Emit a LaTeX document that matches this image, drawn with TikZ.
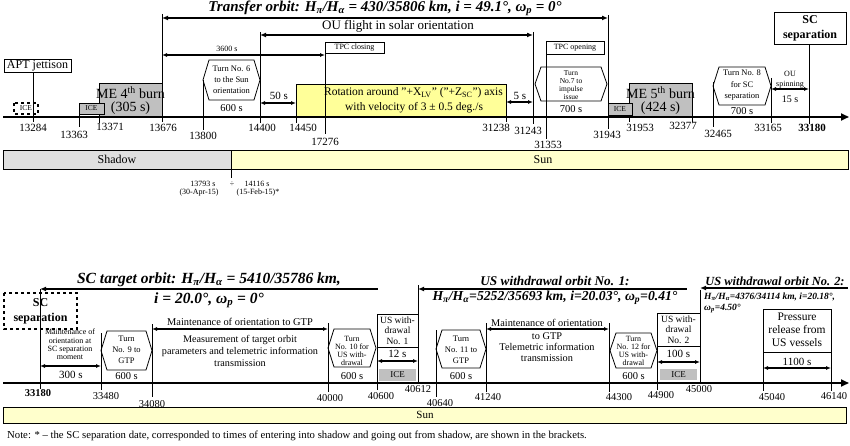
\documentclass[tikz,border=0pt]{standalone}
\usepackage{fontspec}
\setmainfont{Liberation Serif}
\usetikzlibrary{arrows.meta}
\newcommand\fsz[2]{\fontsize{#1}{#2}\selectfont}
\newcommand\turnhex[4]{\draw[hexs] ({#1+6},#3) -- ({#2-6},#3) -- (#2,{(#3+#4)/2}) -- ({#2-6},#4) -- ({#1+6},#4) -- (#1,{(#3+#4)/2}) -- cycle;}
\definecolor{gboxc}{HTML}{C0C0C0}
\definecolor{shadowc}{HTML}{E0E0E0}
\definecolor{sunc}{HTML}{FFFFCC}
\definecolor{rotc}{HTML}{FFFF99}
\begin{document}
\begin{tikzpicture}[x=1pt,y=-1pt,
  axis/.style={line width=2.2pt,-{Triangle[length=8pt,width=7pt]}},
  vl/.style={line width=0.8pt},
  dimarr/.style={line width=1.4pt,{Latex[length=5pt,width=4pt]}-{Latex[length=5pt,width=4pt]}},
  orbl/.style={line width=1.6pt,{Latex[length=6pt,width=5pt]}-},
  orbb/.style={line width=1.6pt,{Latex[length=6pt,width=5pt]}-{Latex[length=6pt,width=5pt]}},
  bx/.style={draw,line width=0.8pt,fill=white},
  gb/.style={draw,line width=0.8pt,fill=gboxc},
  hexs/.style={line width=0.8pt},
  t/.style={inner sep=0pt,align=center},
  tk/.style={t,font=\fsz{11}{11}},
  tkb/.style={t,font=\fsz{10.5}{10.5}},
  ttl/.style={t,font=\fsz{15}{15}\bfseries\itshape},
]
\useasboundingbox (0,0) rectangle (850,446);
\fill[white] (0,0) rectangle (850,446);

%================ TOP TIMELINE ================
\draw[gb] (99,83) rectangle (162,117);
\node[t,font=\fsz{14}{14}] (me4a) at (130.5,93) {ME 4\textsuperscript{th} burn};
\node[t,font=\fsz{14}{14}] (me4b) at (130.5,108) {(305 s)};
\draw[gb] (79,103) rectangle (104,114);
\node[t,font=\fsz{7.5}{7.5}] (ice1) at (91.5,108.5) {ICE};
\draw[line width=1.2pt,dashed,fill=white] (14,103) rectangle (38,114);
\node[t,font=\fsz{7.5}{7.5}] (ice0) at (26,108.5) {ICE};

\draw[bx] (4,59) rectangle (71,72);
\node[t,font=\fsz{12}{12}] (apt) at (37.5,65.5) {APT jettison};

\draw[draw,line width=0.8pt,fill=rotc] (296,84) rectangle (506,117);
\node[t,font=\fsz{11.5}{11.5}] (rot1) at (413.5,93) {Rotation around "+X\textsubscript{LV}" ("+Z\textsubscript{SC}") axis};
\node[t,font=\fsz{11.5}{11.5}] (rot2) at (414,108) {with velocity of 3 ± 0.5 deg./s};

\draw[gb] (629,83) rectangle (692,117);
\node[t,font=\fsz{14}{14}] (me5a) at (660.5,93) {ME 5\textsuperscript{th} burn};
\node[t,font=\fsz{14}{14}] (me5b) at (660.5,108) {(424 s)};
\draw[gb] (608,103) rectangle (632,115);
\node[t,font=\fsz{7.5}{7.5}] (ice2) at (620,109) {ICE};

% vertical lines
\draw[vl] (33,72) -- (33,122);
\draw[vl] (79,114) -- (79,127);
\draw[vl] (99,114) -- (99,123);
\draw[vl] (162,14) -- (162,122);
\draw[vl] (203,80) -- (203,130);
\draw[vl] (260,32) -- (260,123);
\draw[vl] (296,117) -- (296,123);
\draw[vl] (325,42) -- (325,134);
\draw[vl] (506,117) -- (506,122);
\draw[vl] (533,32) -- (533,124);
\draw[vl] (546,41) -- (546,139);
\draw[vl] (608,15) -- (608,129);
\draw[vl] (629,115) -- (629,122);
\draw[vl] (692,117) -- (692,122);
\draw[vl] (713,82) -- (713,127);
\draw[vl] (771,78) -- (771,123);
\draw[vl] (809,44) -- (809,124);

% orbit / duration arrows
\draw[orbb] (162,18) -- (608,18);
\node[ttl] (title1) at (385,8) {Transfer orbit: H\textsubscript{π}/H\textsubscript{α} = 430/35806 km, i = 49.1°, ω\textsubscript{p} = 0°};
\draw[orbb] (260,35) -- (533,35);
\node[t,font=\fsz{13}{13}] (ouf) at (398,26) {OU flight in solar orientation};
\draw[dimarr] (162,55) -- (325,55);
\node[t,font=\fsz{8}{8}] (d3600) at (227,49) {3600 s};

\draw[bx] (325,42) rectangle (384,53);
\node[t,font=\fsz{8}{8}] (tpcc) at (354.5,47.5) {TPC closing};
\draw[bx] (546,41) rectangle (604,54);
\node[t,font=\fsz{8}{8}] (tpco) at (575,47.5) {TPC opening};

% turns
\turnhex{203}{260}{60}{100}
\node[t,font=\fsz{8.5}{11}] (turn6) at (231.5,80) {Turn No. 6\\to the Sun\\orientation};
\node[t,font=\fsz{10.5}{10.5}] (d600a) at (231.5,108) {600 s};
\turnhex{535}{607}{67}{101}
\node[t,font=\fsz{7.5}{8}] (turn7) at (571,85) {Turn\\No.7 to\\impulse\\issue};
\node[t,font=\fsz{10.5}{10.5}] (d700a) at (571,109) {700 s};
\turnhex{713}{771}{67}{105}
\node[t,font=\fsz{8.5}{11.5}] (turn8) at (742,85.5) {Turn No. 8\\for SC\\separation};
\node[t,font=\fsz{10.5}{10.5}] (d700b) at (742,111) {700 s};

\draw[dimarr] (260,103) -- (296,103);
\node[t,font=\fsz{11}{11}] (d50) at (279,96) {50 s};
\draw[dimarr] (506,102) -- (533,102);
\node[t,font=\fsz{11}{11}] (d5) at (520,96) {5 s};
\draw[dimarr] (771,89) -- (809,89);
\node[t,font=\fsz{8}{8}] (ou) at (790,74) {OU};
\node[t,font=\fsz{8}{8}] (spin) at (790,85) {spinning};
\node[t,font=\fsz{10}{10}] (d15) at (790,99) {15 s};

\draw[bx] (774,12) rectangle (846,44);
\node[t,font=\fsz{12}{15}\bfseries] (scsep1) at (810,28) {SC\\separation};

\draw[axis] (3,117) -- (849,117);

% tick labels
\node[tk] at (33,128) {13284};
\node[tk] at (74,135) {13363};
\node[tk] at (110,127) {13371};
\node[tk] at (163,128) {13676};
\node[tk] at (203,136) {13800};
\node[tk] at (262,128) {14400};
\node[tk] at (303,128) {14450};
\node[tk] at (325,142) {17276};
\node[tk] at (496,128) {31238};
\node[tk] at (528,131) {31243};
\node[tk] at (548,145) {31353};
\node[tk] at (607,135) {31943};
\node[tk] at (640,128) {31953};
\node[tk] at (683,126) {32377};
\node[tk] at (718,134) {32465};
\node[tk] at (768,128) {33165};
\node[tk,font=\fsz{11}{11}\bfseries] at (812,128) {33180};

% shadow / sun
\draw[line width=0.8pt,fill=shadowc] (3,150) rectangle (231,169);
\draw[line width=0.8pt,fill=sunc] (231,150) rectangle (848,169);
\node[t,font=\fsz{12}{12}] (shadow) at (117,159.5) {Shadow};
\node[t,font=\fsz{12}{12}] (sun1) at (543,159.5) {Sun};
\draw[vl] (231,169) -- (231,178);
\node[t,font=\fsz{8}{8}] at (203,184) {13793 s};
\node[t,font=\fsz{8}{8}] at (232,184) {÷};
\node[t,font=\fsz{8}{8}] at (257,184) {14116 s};
\node[t,font=\fsz{8}{8}] at (199,193) {(30-Apr-15)};
\node[t,font=\fsz{8}{8}] at (258,193) {(15-Feb-15)*};

%================ BOTTOM TIMELINE ================
\node[ttl,font=\fsz{15.5}{15.5}\bfseries\itshape] (title2) at (209,280) {SC target orbit: H\textsubscript{π}/H\textsubscript{α} = 5410/35786 km,};
\draw[orbl] (40,289) -- (378,289);
\node[ttl,font=\fsz{15.5}{15.5}\bfseries\itshape] (title2b) at (209,300) {i = 20.0°, ω\textsubscript{p} = 0°};

\draw[line width=1.2pt,dashed,fill=white] (4,293) rectangle (77,329);
\node[t,font=\fsz{12}{15}\bfseries] (scsep2) at (40.5,311) {SC\\separation};

\node[t,font=\fsz{8}{8.3}] (maint0) at (70,344.5) {Maintenance of\\orientation at\\SC separation\\moment};

\draw[orbl] (418,289) -- (687,289);
\node[ttl,font=\fsz{13.3}{13.3}\bfseries\itshape] (title3) at (555,281) {US withdrawal orbit No. 1:};
\node[ttl,font=\fsz{13.7}{13.7}\bfseries\itshape] (title3b) at (555,298) {H\textsubscript{π}/H\textsubscript{α}=5252/35693 km, i=20.03°, ω\textsubscript{p}=0.41°};

\draw[orbl] (700,288) -- (848,288);
\node[ttl,font=\fsz{12.4}{12.4}\bfseries\itshape] (title4) at (775,281) {US withdrawal orbit No. 2:};
\node[t,anchor=west,font=\fsz{9.5}{9.5}\bfseries\itshape] (title4b) at (704,297) {H\textsubscript{π}/H\textsubscript{α}=4376/34114 km, i=20.18°,};
\node[t,anchor=west,font=\fsz{9.5}{9.5}\bfseries\itshape] (title4c) at (704,309) {ω\textsubscript{p}=4.50°};

% vertical lines
\draw[vl] (40,289) -- (40,389);
\draw[vl] (101,333) -- (101,390);
\draw[vl] (152,324) -- (152,397);
\draw[vl] (328,323) -- (328,392);
\draw[vl] (377,383) -- (377,390);
\draw[vl] (418,285) -- (418,383);
\draw[vl] (436,330) -- (436,397);
\draw[vl] (486,323) -- (486,392);
\draw[vl] (609,323) -- (609,392);
\draw[vl] (657,383) -- (657,390);
\draw[vl] (700,290) -- (700,383);
\draw[vl] (763,383) -- (763,391);
\draw[vl] (831,383) -- (831,391);

% dims
\draw[dimarr] (40,366) -- (101,366);
\node[t,font=\fsz{11}{11}] (d300) at (71,374.5) {300 s};

\turnhex{101}{152}{331}{370}
\node[t,font=\fsz{8.5}{11}] (turn9) at (126.5,350) {Turn\\No. 9 to\\GTP};
\node[t,font=\fsz{10.5}{10.5}] (d600b) at (126.5,376) {600 s};

\draw[dimarr] (152,329) -- (328,329);
\node[t,font=\fsz{10.4}{10.4}] (mgtp1) at (240,322) {Maintenance of orientation to GTP};
\node[t,font=\fsz{10.2}{12}] (meas) at (240,351) {Measurement of target orbit\\parameters and telemetric information\\transmission};

\turnhex{328}{376}{329}{367}
\node[t,font=\fsz{8}{8}] (turn10) at (352,350.5) {Turn\\No. 10 for\\US with-\\drawal};
\node[t,font=\fsz{10.5}{10.5}] (d600c) at (352,376) {600 s};

\draw[bx] (377,314) rectangle (418,383);
\draw[vl] (377,347) -- (418,347);
\node[t,font=\fsz{9.5}{10.5}] (usw1) at (397.5,330.5) {US with-\\drawal\\No. 1};
\node[t,font=\fsz{11}{11}] (d12) at (397.5,353.5) {12 s};
\draw[dimarr] (377,361) -- (418,361);
\draw[fill=gboxc,draw=none] (379,369) rectangle (416,381);
\node[t,font=\fsz{9}{9}] (ice3) at (397.5,375) {ICE};

\turnhex{436}{486}{330}{368}
\node[t,font=\fsz{8.5}{11}] (turn11) at (461,350) {Turn\\No. 11 to\\GTP};
\node[t,font=\fsz{10.5}{10.5}] (d600d) at (461,376) {600 s};

\draw[dimarr] (486,329) -- (609,329);
\node[t,font=\fsz{10.3}{10.3}] (mgtp2a) at (547,323) {Maintenance of orientation};
\node[t,font=\fsz{10.3}{11}] (mgtp2b) at (547,347) {to GTP\\Telemetric information\\transmission};

\turnhex{610}{657}{333}{368}
\node[t,font=\fsz{8}{8}] (turn12) at (633.5,350.5) {Turn\\No. 12 for\\US with-\\drawal};
\node[t,font=\fsz{10.5}{10.5}] (d600e) at (633.5,376) {600 s};

\draw[bx] (657,313) rectangle (700,383);
\draw[vl] (657,346) -- (700,346);
\node[t,font=\fsz{9.5}{10.5}] (usw2) at (678.5,329.5) {US with-\\drawal\\No. 2};
\node[t,font=\fsz{11}{11}] (d100) at (678.5,354) {100 s};
\draw[dimarr] (657,362) -- (700,362);
\draw[fill=gboxc,draw=none] (660,369) rectangle (697,380);
\node[t,font=\fsz{9}{9}] (ice4) at (678.5,374.5) {ICE};

\draw[bx] (763,309) rectangle (831,383);
\draw[vl] (763,352) -- (831,352);
\node[t,font=\fsz{11.5}{13}] (press) at (797,329.5) {Pressure\\release from\\US vessels};
\node[t,font=\fsz{11}{11}] (d1100) at (797,362) {1100 s};
\draw[dimarr] (763,368) -- (831,368);

\draw[axis] (3,383) -- (849,383);

% tick labels
\node[tkb,font=\fsz{10.5}{10.5}\bfseries] at (38,393) {33180};
\node[tkb] at (106,396) {33480};
\node[tkb] at (152,404) {34080};
\node[tkb] at (330,398) {40000};
\node[tkb] at (381,396) {40600};
\node[tkb] at (418,389) {40612};
\node[tkb] at (440,403) {40640};
\node[tkb] at (488,397) {41240};
\node[tkb] at (619,397) {44300};
\node[tkb] at (661,395) {44900};
\node[tkb] at (699,389) {45000};
\node[tkb] at (772,397) {45040};
\node[tkb] at (834,396) {46140};

% sun bar
\draw[line width=0.8pt,fill=sunc] (3,407) rectangle (846,423);
\node[t,font=\fsz{11}{11}] (sun2) at (425,415) {Sun};
\node[t,anchor=west,font=\fsz{10.7}{10.7}] (note) at (7,436) {Note: * -- the SC separation date, corresponded to times of entering into shadow and going out from shadow, are shown in the brackets.};
\end{tikzpicture}
\end{document}
